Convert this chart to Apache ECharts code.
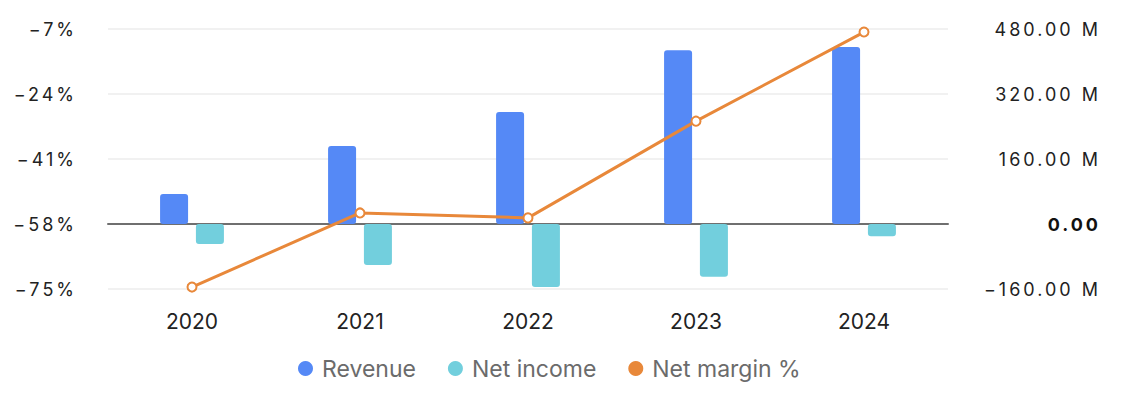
<!DOCTYPE html>
<html lang="en">
<head>
    <meta charset="UTF-8">
    <title>Revenue / Net income</title>
    <script src="https://cdn.jsdelivr.net/npm/echarts@6/dist/echarts.min.js"></script>
    <style>
        html, body { margin: 0; padding: 0; background: #ffffff; }
        #chart { width: 1128px; height: 404px; }
        /* value axis labels are spaced out a bit */
        #chart text[style*="Inter, sans-serif"] { letter-spacing: 3px; }
    </style>
</head>
<body>
<div id="chart"></div>
<script>
    // data (money in millions, margin in %)
    var years = ['2020', '2021', '2022', '2023', '2024'];
    var revenue = [74, 192, 276, 428, 436];
    var netIncome = [-49, -101, -155, -130, -30];
    var netMargin = [-74.5, -55.1, -56.4, -31.1, -7.8];
    // left axis ticks: -75, -58, -41, -24, -7
    var marginMin = -75, marginStep = 17, marginMax = -7;

    var minus = function (s) { return String(s).replace('-', '\u2212'); };
    var font = 'Inter, "Noto Sans", sans-serif';
    var axisFont = 'Inter, sans-serif';

    var myChart = echarts.init(document.getElementById('chart'), null, { renderer: 'svg' });
    var option = {
        animation: false,
        textStyle: { fontFamily: font },
        grid: { left: 108, right: 180, top: 29, bottom: 115 },
        legend: {
            top: 352,
            left: 293,
            icon: 'circle',
            itemWidth: 23,
            itemHeight: 15,
            itemGap: 32,
            textStyle: { fontSize: 23, color: '#6b6b6b', fontFamily: font },
            data: ['Revenue', 'Net income', 'Net margin %']
        },
        xAxis: {
            type: 'category',
            data: years,
            axisTick: { show: false },
            axisLine: { onZero: true, onZeroAxisIndex: 1, lineStyle: { color: '#6f6f6f', width: 2 } },
            axisLabel: { fontSize: 21, color: '#222', margin: 22, fontFamily: font }
        },
        yAxis: [{
            // shifted so the ticks start at -75
            type: 'value',
            min: 0,
            max: marginMax - marginMin,
            interval: marginStep,
            axisLine: { show: false },
            axisTick: { show: false },
            splitLine: { show: false },
            axisLabel: {
                fontSize: 18, color: '#222', margin: 31, fontFamily: axisFont,
                formatter: function (v) { return minus(v + marginMin) + '%'; }
            }
        }, {
            type: 'value',
            min: -160,
            max: 480,
            interval: 160,
            axisLine: { show: false },
            axisTick: { show: false },
            splitLine: { lineStyle: { color: '#f1f1f1', width: 2 } },
            axisLabel: {
                fontSize: 18, color: '#222', align: 'right', margin: 153, fontFamily: axisFont,
                formatter: function (v) {
                    if (v === 0) return '{b|0.00}';
                    return minus(v.toFixed(2)) + ' M';
                },
                rich: { b: { fontSize: 18, fontWeight: 'bold', color: '#111', fontFamily: axisFont } }
            }
        }],
        series: [{
            name: 'Revenue',
            type: 'bar',
            yAxisIndex: 1,
            data: revenue,
            barWidth: 28,
            barGap: '28%',
            itemStyle: { color: '#5589f6', borderRadius: 3 }
        }, {
            name: 'Net income',
            type: 'bar',
            yAxisIndex: 1,
            data: netIncome,
            barWidth: 28,
            itemStyle: { color: '#72cfdd', borderRadius: 3 }
        }, {
            name: 'Net margin %',
            type: 'line',
            yAxisIndex: 0,
            data: netMargin.map(function (v) { return v - marginMin; }),
            symbol: 'emptyCircle',
            symbolSize: 9,
            z: 5,
            lineStyle: { color: '#e8883a', width: 3 },
            itemStyle: { color: '#e8883a', borderWidth: 2 }
        }]
    };
    myChart.setOption(option);
</script>
</body>
</html>
